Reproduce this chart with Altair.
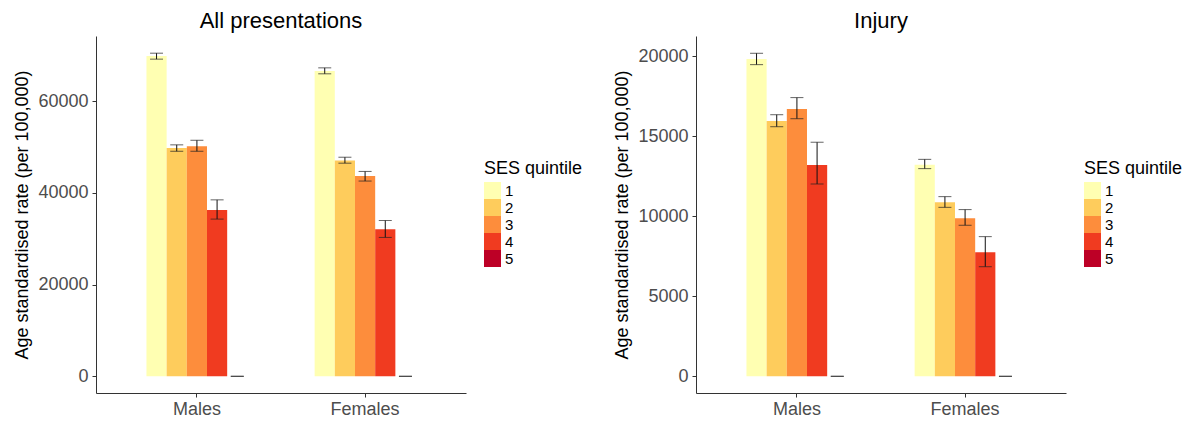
import altair as alt
import pandas as pd

groups = ["Males", "Females"]
quintiles = ["1", "2", "3", "4", "5"]
palette = ["#FFFFB2", "#FECC5C", "#FD8D3C", "#F03B20", "#BD0026"]

all_rate_males = [69900, 49800, 50200, 36300, 0]
all_lo_males = [69200, 49100, 49100, 34300, 0]
all_hi_males = [70500, 50500, 51500, 38500, 0]
all_rate_females = [66600, 47100, 43700, 32100, 0]
all_lo_females = [66000, 46500, 42600, 30300, 0]
all_hi_females = [67300, 47800, 44700, 34000, 0]

inj_rate_males = [19830, 15950, 16700, 13200, 0]
inj_lo_males = [19480, 15600, 16100, 12020, 0]
inj_hi_males = [20190, 16350, 17420, 14630, 0]
inj_rate_females = [13230, 10880, 9880, 7750, 0]
inj_lo_females = [12980, 10560, 9440, 6850, 0]
inj_hi_females = [13560, 11230, 10420, 8730, 0]

FONT = "Liberation Sans"


def make_df(rm, lm, hm, rf, lf, hf):
    rows = []
    for g, r, l, h in [("Males", rm, lm, hm), ("Females", rf, lf, hf)]:
        for i, q in enumerate(quintiles):
            rows.append({"group": g, "q": q, "rate": r[i], "lo": l[i], "hi": h[i]})
    return pd.DataFrame(rows)


def panel(df, title, ydomain, yticks, W=370, H=357):
    base = alt.Chart(df)
    x = alt.X("group:N", sort=groups, title=None,
              scale=alt.Scale(paddingInner=0.4, paddingOuter=0.3),
              axis=alt.Axis(labelAngle=0, labelFont=FONT, labelFontSize=18,
                            labelColor="#4D4D4D", tickColor="#333333", tickSize=4,
                            domainColor="#333333", domainWidth=1, labelPadding=3,
                            grid=False))
    xo = alt.XOffset("q:N", sort=quintiles,
                     scale=alt.Scale(paddingInner=0, paddingOuter=0))
    y = alt.Y("rate:Q", title="Age standardised rate (per 100,000)",
              scale=alt.Scale(domain=ydomain, nice=False, zero=False),
              axis=alt.Axis(values=yticks, labelFont=FONT, labelFontSize=18,
                            labelColor="#4D4D4D", tickColor="#333333", tickSize=4,
                            domainColor="#333333", domainWidth=1, labelPadding=4,
                            titleFont=FONT, titleFontSize=18, titleFontWeight="normal",
                            titleColor="#000000", titlePadding=6, grid=False,
                            format="d"))
    color = alt.Color("q:N", sort=quintiles,
                      scale=alt.Scale(domain=quintiles, range=palette),
                      legend=alt.Legend(title="SES quintile", orient="none",
                                        legendX=W + 18, legendY=124,
                                        titleFont=FONT, titleFontSize=18,
                                        titleFontWeight="normal", titleColor="#000000",
                                        titlePadding=4,
                                        labelFont=FONT, labelFontSize=15,
                                        labelColor="#000000", labelOffset=4,
                                        symbolType="square", symbolSize=289,
                                        symbolStrokeWidth=0, symbolOpacity=1,
                                        rowPadding=0, padding=0))
    bars = base.mark_bar(opacity=1).encode(x=x, xOffset=xo, y=y, color=color)
    rule = base.mark_rule(color="#111111", strokeWidth=1).encode(
        x=x, xOffset=xo, y=alt.Y("lo:Q"), y2="hi:Q")
    cap_lo = base.mark_tick(color="#222222", thickness=1, size=13,
                            orient="horizontal").encode(x=x, xOffset=xo, y=alt.Y("lo:Q"))
    cap_hi = base.mark_tick(color="#222222", thickness=1, size=13,
                            orient="horizontal").encode(x=x, xOffset=xo, y=alt.Y("hi:Q"))
    return alt.layer(bars, rule, cap_lo, cap_hi).properties(
        width=W, height=H,
        title=alt.TitleParams(title, font=FONT, fontSize=22, fontWeight="normal",
                              color="#000000", anchor="middle", offset=3)
    )


df_all = make_df(all_rate_males, all_lo_males, all_hi_males,
                 all_rate_females, all_lo_females, all_hi_females)
df_inj = make_df(inj_rate_males, inj_lo_males, inj_hi_males,
                 inj_rate_females, inj_lo_females, inj_hi_females)

left = panel(df_all, "All presentations", [-3644, 74250], [0, 20000, 40000, 60000])
right = panel(df_inj, "Injury", [-1044, 21270], [0, 5000, 10000, 15000, 20000])

chart = alt.hconcat(left, right, spacing=30).resolve_scale(
    color="independent", y="independent", x="independent", xOffset="independent"
).properties(
    padding={"left": 5, "top": 2, "right": 0, "bottom": 0},
    background="#FFFFFF"
).configure_view(strokeWidth=0, stroke="transparent")

chart.save("out.html", embed_options={"renderer": "svg", "actions": False})
